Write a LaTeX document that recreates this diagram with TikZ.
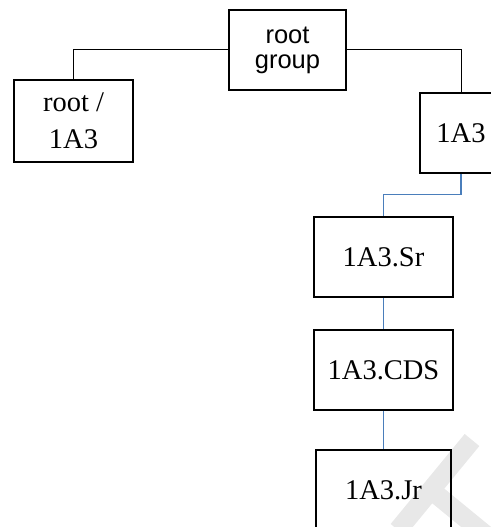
\documentclass[tikz,border=0pt]{standalone}
\usepackage{fontspec}
\setmainfont{Liberation Serif}
\newfontfamily\arialfont{Liberation Sans}
\usetikzlibrary{calc}
\definecolor{linkblue}{RGB}{74,126,187}
\definecolor{wmark}{RGB}{232,232,232}
\tikzset{
  box/.style={draw=black, line width=1.6pt, rectangle, inner sep=0pt, align=center,
    font=\fontsize{28.5}{37}\selectfont},
  blackline/.style={draw=black, line width=1pt},
  blueline/.style={draw=linkblue, line width=1.3pt},
  wm/.style={draw=wmark, line width=19pt, line cap=butt}
}
\begin{document}
\begin{tikzpicture}[x=1pt,y=-1pt]
\useasboundingbox (0,0) rectangle (490,527);
% watermark
\draw[wm] (472,440) -- (398,530);
\draw[wm] (431,490) -- (492,540);
% nodes
\node[box, minimum width=117pt, minimum height=80pt, font=\arialfont\fontsize{25.5}{25}\selectfont] (rg) at (287.5,50) {root\\group};
\node[box, minimum width=119pt, minimum height=82pt] (r1) at (73.5,121) {root /\\1A3};
\node[box, minimum width=82pt, minimum height=80pt] (a) at (461,133) {1A3};
\node[box, minimum width=139pt, minimum height=80pt] (sr) at (383.5,257) {1A3.Sr};
\node[box, minimum width=139pt, minimum height=80pt] (cds) at (383.5,370) {1A3.CDS};
\node[box, minimum width=135pt, minimum height=80pt] (jr) at (383.5,490) {1A3.Jr};
% connectors
\draw[blackline] (rg.west) -| (r1.north);
\draw[blackline] (rg.east) -| (a.north);
\draw[blueline] (a.south) -- ++(0,21) -| (sr.north);
\draw[blueline] (sr.south) -- (cds.north);
\draw[blueline] (cds.south) -- (jr.north);
\end{tikzpicture}
\end{document}
